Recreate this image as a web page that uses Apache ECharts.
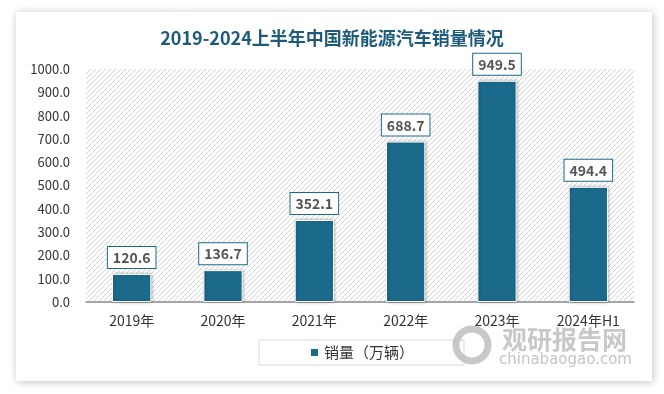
<!DOCTYPE html>
<html><head><meta charset="utf-8">
<script src="https://cdn.jsdelivr.net/npm/echarts@6/dist/echarts.min.js"></script>
<style>html,body{margin:0;padding:0;background:#fff;}#c{width:664px;height:394px;}</style>
</head><body><div id="c"></div>
<script>
var categories = ['2019年','2020年','2021年','2022年','2023年','2024年H1'];
var salesValues = [120.6, 136.7, 352.1, 688.7, 949.5, 494.4];
var seriesName = '销量（万辆）';
var titleText = '2019-2024上半年中国新能源汽车销量情况';

var pc = document.createElement('canvas');
pc.width = 5; pc.height = 5;
var g = pc.getContext('2d');
g.fillStyle = '#ffffff'; g.fillRect(0,0,5,5);
g.strokeStyle = '#d4d4d4'; g.lineWidth = 1;
g.beginPath();
g.moveTo(-1,6); g.lineTo(6,-1);
g.moveTo(-1,1); g.lineTo(1,-1);
g.moveTo(4,6); g.lineTo(6,4);
g.stroke();

var chart = echarts.init(document.getElementById('c'), null, {renderer:'canvas'});
var font = 'Noto Sans CJK SC';
chart.setOption({
  backgroundColor: '#ffffff',
  animation: false,
  graphic: [
    {type:'rect', z:-10, shape:{x:16,y:12,width:636,height:369}, style:{fill:'#fff', shadowColor:'rgba(0,0,0,0.25)', shadowBlur:8, shadowOffsetX:1, shadowOffsetY:1}},
    {type:'circle', z:10, shape:{cx:472,cy:345,r:16}, style:{fill:'none', stroke:'rgba(190,190,190,0.85)', lineWidth:7}},
    {type:'text', z:10, style:{text:'观研报告网', x:502, y:327, font:'bold 25px "Noto Sans CJK SC"', fill:'rgba(190,190,190,0.85)'}},
    {type:'text', z:10, style:{text:'chinabaogao.com', x:499, y:353, font:'15px "DejaVu Sans"', fill:'rgba(185,185,185,0.85)'}}
  ],
  title: {
    text: titleText, left: 'center', top: 24,
    textStyle: {fontFamily: font, fontWeight: 'bold', fontSize: 18, color: '#1e5b7a'}
  },
  legend: {
    left: 259, top: 340,
    padding: [5, 50],
    borderColor: '#d9d9d9', borderWidth: 1,
    itemWidth: 9, itemHeight: 9, itemGap: 5,
    icon: 'rect',
    textStyle: {fontFamily: font, fontSize: 15, color: '#333'},
    data: [seriesName]
  },
  grid: {
    left: 86, right: 30, top: 69, bottom: 92,
    show: true, borderWidth: 0,
    backgroundColor: {image: pc, repeat: 'repeat'}
  },
  xAxis: {
    type: 'category', data: categories,
    axisLine: {lineStyle: {color: '#8c8c8c', width: 1.5}},
    axisTick: {show: false},
    axisLabel: {fontFamily: font, fontSize: 14, color: '#333', margin: 12}
  },
  yAxis: {
    type: 'value', min: 0, max: 1000, interval: 100,
    axisLine: {show: false}, axisTick: {show: false},
    splitLine: {show: false},
    axisLabel: {fontFamily: font, fontSize: 13, color: '#333', margin: 16,
      formatter: function(v){ return v.toFixed(1); }}
  },
  series: [{
    name: seriesName, type: 'bar', data: salesValues,
    barWidth: '43%',
    itemStyle: {color: '#1b6a8c', borderColor: '#ffffff', borderWidth: 1,
      shadowColor: 'rgba(0,0,0,0.3)', shadowBlur: 3, shadowOffsetX: 1, shadowOffsetY: 0},
    label: {
      show: true, position: 'top', distance: 6,
      formatter: function(p){ return p.value.toFixed(1); },
      fontFamily: font, fontSize: 14, fontWeight: 'bold', color: '#555555',
      backgroundColor: '#ffffff', borderColor: '#1b6a8c', borderWidth: 1,
      padding: [4, 5, 3, 5]
    }
  }]
});
</script></body></html>
